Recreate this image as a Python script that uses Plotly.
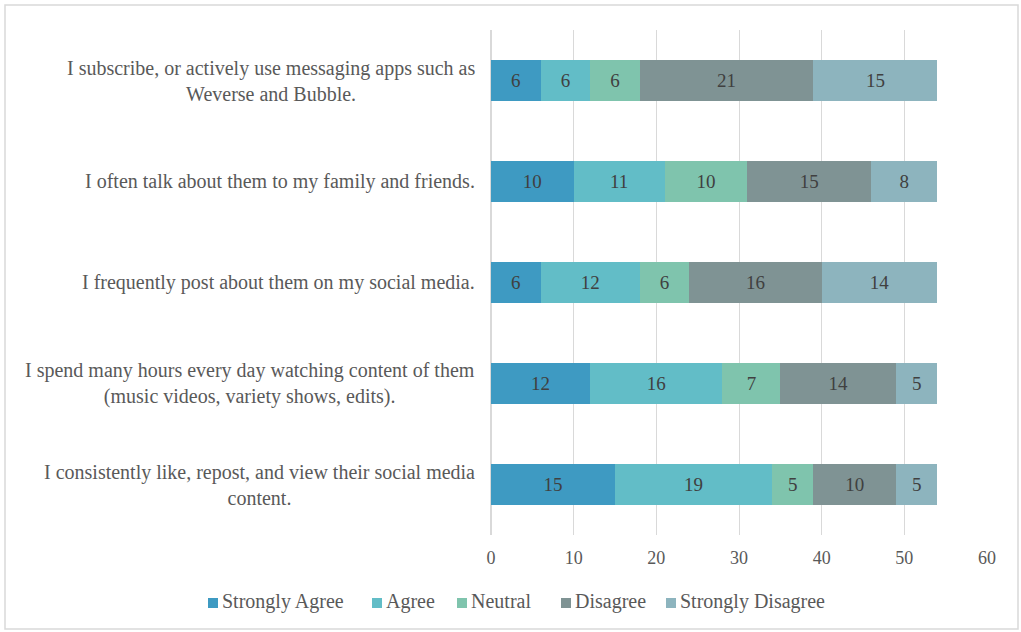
import plotly.graph_objects as go

statements = [
    "I subscribe, or actively use messaging apps such as<br>Weverse and Bubble.",
    "I often talk about them to my family and friends.",
    "I frequently post about them on my social media.",
    "I spend many hours every day watching content of them<br>(music videos, variety shows, edits).",
    "I consistently like, repost, and view their social media<br>content.",
]
series_names = ["Strongly Agree", "Agree", "Neutral", "Disagree", "Strongly Disagree"]
strongly_agree = [6, 10, 6, 12, 15]
agree = [6, 11, 12, 16, 19]
neutral = [6, 10, 6, 7, 5]
disagree = [21, 15, 16, 14, 10]
strongly_disagree = [15, 8, 14, 5, 5]
x_ticks = [0, 10, 20, 30, 40, 50, 60]

colors = ["#3E9AC2", "#62BDC7", "#7FC4AD", "#7F9394", "#8DB4BE"]
values = [strongly_agree, agree, neutral, disagree, strongly_disagree]
cats = [f"c{i}" for i in range(len(statements))]

FONT = "Liberation Serif, Times New Roman, serif"
W, H = 1021, 632
PX0, PX1, PY0, PY1 = 491, 987, 30, 535  # plot area in pixels
PW, PH = PX1 - PX0, PY1 - PY0


def px(x):
    return (x - PX0) / PW


def py(y):
    return (PY1 - y) / PH


fig = go.Figure()
for name, vals, col in zip(series_names, values, colors):
    fig.add_trace(go.Bar(
        y=cats, x=vals, name=name, orientation="h",
        marker=dict(color=col, line=dict(width=0)),
        text=[str(v) for v in vals], textposition="inside",
        insidetextanchor="middle", textangle=0,
        textfont=dict(family=FONT, size=19, color="#404040"),
        width=0.4, showlegend=False,
    ))

for c, s in zip(cats, statements):
    fig.add_annotation(
        x=px(477), xref="paper", y=c, yref="y", text=s, showarrow=False,
        xanchor="right", yanchor="middle", align="center",
        font=dict(family=FONT, size=20, color="#595959"),
    )

# legend (squares + labels) laid out like the reference
legend_square_px = [208, 372, 457, 561, 666]
LEG_Y = 603
for name, col, sx in zip(series_names, colors, legend_square_px):
    fig.add_shape(type="rect", xref="paper", yref="paper",
                  x0=px(sx), x1=px(sx + 10),
                  y0=py(LEG_Y + 5), y1=py(LEG_Y - 5),
                  line=dict(width=0), fillcolor=col)
    fig.add_annotation(x=px(sx + 12), xref="paper", y=py(601), yref="paper",
                       text=name, showarrow=False, xanchor="left", yanchor="middle",
                       font=dict(family=FONT, size=20, color="#595959"))

# chart border
fig.add_shape(type="rect", xref="paper", yref="paper",
              x0=px(5), x1=px(1018), y0=py(629), y1=py(5),
              line=dict(color="#D9D9D9", width=1.5), fillcolor="rgba(0,0,0,0)", layer="below")

fig.update_layout(
    barmode="stack",
    width=W, height=H, autosize=False,
    margin=dict(l=PX0, r=W - PX1, t=PY0, b=H - PY1, autoexpand=False),
    paper_bgcolor="white", plot_bgcolor="white",
    xaxis=dict(range=[0, 60], tickvals=x_ticks,
               showgrid=True, gridcolor="#D9D9D9", gridwidth=1,
               zeroline=True, zerolinecolor="#D9D9D9", showline=False, ticks="",
               ticklabelstandoff=10, automargin=False,
               tickfont=dict(family=FONT, size=18, color="#595959"), fixedrange=True),
    yaxis=dict(categoryorder="array", categoryarray=cats, autorange="reversed",
               showticklabels=False, showgrid=False, ticks="", fixedrange=True,
               automargin=False),
    showlegend=False,
)

fig.write_html("out.html", config={"responsive": False, "displayModeBar": False},
               post_script="document.body.style.margin='0';document.body.style.overflow='hidden';")
